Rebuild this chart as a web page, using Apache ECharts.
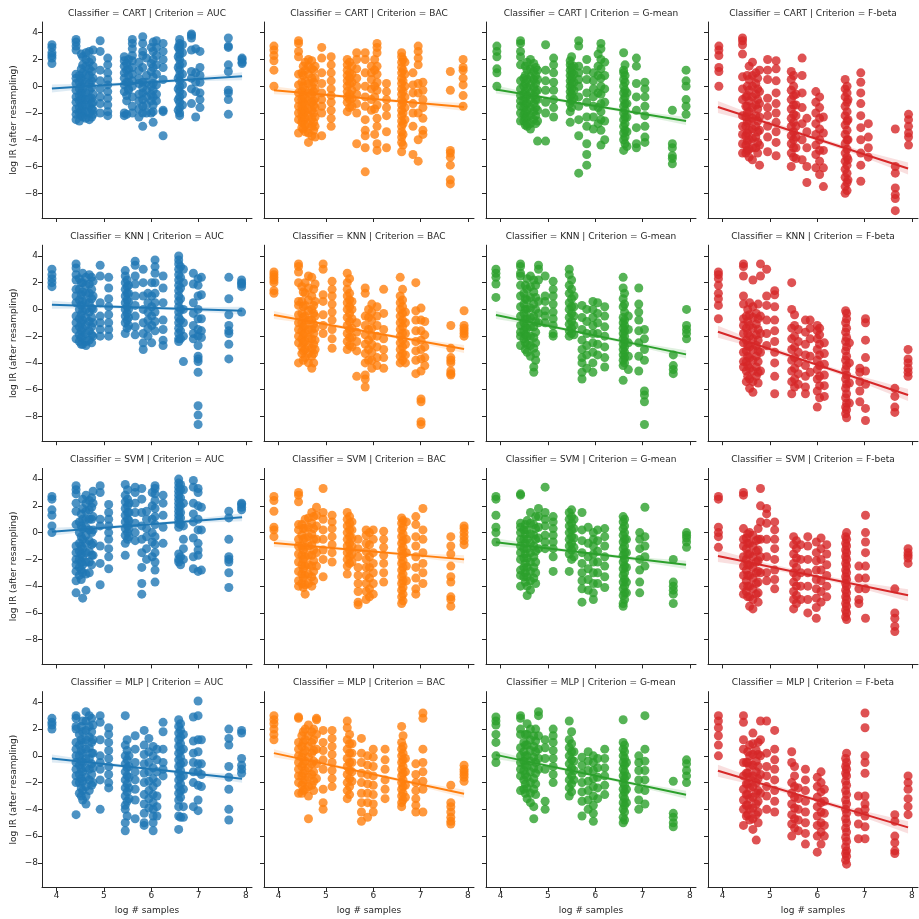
<!DOCTYPE html>
<html lang="en">
<head>
  <meta charset="UTF-8">
  <title>log IR vs log # samples</title>
  <script src="https://cdn.jsdelivr.net/npm/echarts@6/dist/echarts.min.js"></script>
  <style>
    body { margin: 0; background: #fff; }
  </style>
</head>
<body>
  <div id="main" style="width:919px; height:919px;"></div>
  <script>
    // column labels, colours, tick labels
    var criteria = ['AUC', 'BAC', 'G-mean', 'F-beta'];
    var classifiers = ['CART', 'KNN', 'SVM', 'MLP'];
    var colors = ['#1f77b4', '#ff7f0e', '#2ca02c', '#d62728'];
    var xTicks = [4, 5, 6, 7, 8];
    var yTicks = [-8, -6, -4, -2, 0, 2, 4];

    // each strip: [log # samples, [log IR values]]
    var cartAuc = [
      [3.9, [3.1, 2.9, 2.5, 2.3, 2.1, 1.7]],
      [4.41, [3.5, 3.3, 3.0, 2.7, 0.9, 0.6, 0.2, -0.3, -0.8, -1.2, -1.7, -2.1, -2.5]],
      [4.48, [0.8, 0.3, -0.2, -0.7, -1.1, -1.6, -2.0, -2.6]],
      [4.52, [2.4, 1.3, 0.6, 0.0, -0.5, -0.9, -1.3, -1.8, -2.2]],
      [4.55, [2.2, 1.6, 1.0, 0.4, -0.2, -0.7, -1.0, -1.5, -2.0, -2.3]],
      [4.62, [2.5, 2.0, 1.5, 0.9, 0.3, -0.5, -1.0, -1.4, -1.9, -2.4]],
      [4.69, [2.6, 1.8, 1.3, 0.8, 0.2, -0.3, -0.9, -1.5, -2.0, -2.5]],
      [4.74, [2.0, 1.1, 0.4, -0.1, -0.9, -1.3, -1.7, -2.3]],
      [4.77, [2.7, 1.5, 0.6, -0.6, -1.2, -1.8, -2.1]],
      [4.92, [3.4, 2.6, 1.2, 0.4, -0.2, -0.8, -1.3, -2.0]],
      [5.08, [2.1, 1.6, 1.0, 0.5, 0.1, -0.4, -0.9, -1.4, -1.9, -2.2]],
      [5.43, [2.2, 1.9, 1.5, 1.0, 0.6, 0.1, -0.4, -2.0, -2.2]],
      [5.48, [1.7, 1.2, 0.3, -0.7, -1.1, -2.1]],
      [5.52, [2.0, 1.3, 0.8, 0.3, -0.2, -0.3]],
      [5.6, [3.5, 3.2, 2.8, 2.3, 1.9, 1.4, 0.9, 0.4, 0.0, -0.8, -1.5, -2.0]],
      [5.74, [1.8, 1.2, 0.6, 0.2, -0.6, -1.1, -1.7, -2.3]],
      [5.82, [3.7, 3.2, 2.6, 2.3, 1.4, 0.3, -0.1, -0.5, -1.0, -1.5, -2.0, -3.0]],
      [5.9, [2.1, 0.8, 0.3, -0.3, -0.8, -1.4, -2.0]],
      [6.0, [2.9, 1.7, 1.1, 0.0, -0.6, -1.1, -2.0]],
      [6.04, [3.3, 2.6, 2.0, 1.4, 0.7, 0.2, -0.3, -0.8, -1.4, -1.9, -2.7]],
      [6.11, [3.4, 2.9, 2.3, 1.6, 0.9, 0.1, -0.6, -1.1]],
      [6.25, [3.2, 2.6, 2.0, 1.4, 0.5, -1.8, -1.9, -3.7]],
      [6.57, [2.9, 2.2, 1.4, 0.6, -0.2, -1.0, -1.8]],
      [6.6, [3.5, 3.2, 3.0, 2.7, 2.4, 2.0, 1.6, 1.2, 0.8, 0.4, 0.0, -0.4, -0.8, -1.2, -1.6, -2.0, -2.2]],
      [6.66, [3.1, 2.5, 1.7, 0.9, 0.1, -0.6, -1.4]],
      [6.85, [3.9, 3.8, 3.6, 2.7, 1.1, 0.6, -0.2, -1.3]],
      [6.94, [2.8, 1.0, 0.3, -0.4, -2.3]],
      [7.03, [2.6, 1.4, 0.8, 0.3, -0.5, -1.0, -1.6]],
      [7.63, [3.6, 3.0, 2.9, 1.6, 1.1, -0.3, -0.5, -1.0, -2.1]],
      [7.92, [2.1, 2.0, 1.8, 1.7]]
    ];
    var cartBac = [
      [3.9, [3.0, 2.7, 2.3, 1.9, 1.2, 0.0]],
      [4.42, [3.4, 3.2, 2.6, 2.2, 0.9, 0.1, -0.5, -1.0, -1.5, -2.0, -2.5, -3.5]],
      [4.49, [1.0, 0.3, -0.4, -1.0, -1.5, -1.9, -2.3, -2.7, -3.1]],
      [4.52, [1.5, 0.8, 0.0, -0.7, -1.2, -1.7, -2.1, -2.6, -3.2]],
      [4.56, [1.8, 1.2, 0.4, -0.3, -0.9, -1.4, -1.9, -2.4, -2.9, -3.4]],
      [4.63, [2.0, 1.5, 0.9, 0.2, -0.5, -1.1, -1.7, -2.2, -2.8, -3.5, -4.2]],
      [4.7, [1.9, 1.3, 0.6, 0.0, -0.6, -1.2, -1.8, -2.4, -3.0, -3.7]],
      [4.74, [1.2, 0.3, -0.4, -1.1, -1.4, -2.0, -2.7, -3.3]],
      [4.77, [1.5, 0.6, -0.2, -0.9, -1.6, -2.3, -3.0, -3.8]],
      [4.91, [2.9, 2.1, 1.0, 0.2, -0.5, -1.0, -1.5, -2.0, -3.7]],
      [5.11, [2.2, 1.6, 1.0, 0.4, -0.2, -0.7, -1.2, -1.8, -2.4, -3.0]],
      [5.45, [2.0, 1.6, 1.2, 0.8, 0.4, 0.0, -0.4, -0.8, -1.2, -1.9]],
      [5.5, [1.8, 1.0, 0.6, 0.2, -0.6, -1.0, -1.6]],
      [5.55, [1.5, 0.9, 0.3, -0.3, -0.9, -1.5]],
      [5.65, [2.5, 2.0, 1.3, 0.6, 0.0, -0.6, -1.3, -2.0, -4.3]],
      [5.83, [2.5, 2.0, 1.0, 0.0, -0.8, -1.5, -2.5, -3.3, -3.7, -4.6, -6.4]],
      [5.96, [1.5, 1.0, 0.5, -0.2, -1.0, -1.8]],
      [6.03, [2.0, 1.2, 0.0, -0.8, -1.7, -3.6]],
      [6.08, [3.2, 2.9, 2.5, 1.5, 0.9, 0.3, -0.3, -1.4, -2.4, -3.0, -4.3, -4.8]],
      [6.28, [0.2, -0.4, -1.0, -1.6, -2.2, -3.4, -4.6]],
      [6.6, [2.5, 2.2, 1.8, 1.4, 1.0, 0.6, 0.2, -0.2, -0.6, -1.0, -1.4, -1.8, -2.2, -2.6, -3.0, -3.4, -3.8, -4.2, -4.9]],
      [6.63, [2.0, 1.2, 0.4, -0.4, -1.2, -2.0, -2.8, -3.6, -4.4]],
      [6.67, [1.8, 0.9, 0.0, -0.8, -1.6, -2.5]],
      [6.84, [1.0, 0.1, -0.5, -1.3, -2.0, -3.0, -5.1]],
      [6.95, [3.0, 2.6, 2.1, 1.6, 0.2, -0.5, -2.0, -4.0, -5.6]],
      [7.05, [0.3, -0.3, -1.0, -1.6, -2.4, -3.3, -3.6]],
      [7.63, [1.1, -0.3, -4.8, -5.0, -5.3, -5.9, -7.0, -7.3]],
      [7.9, [2.0, 1.4, 1.2, 0.6, 0.1, -0.7, -1.5]]
    ];
    var cartGmean = [
      [3.92, [3.0, 2.6, 2.2, 1.3, 1.0, 0.0]],
      [4.42, [3.4, 3.2, 2.6, 2.2, 1.6, 0.4, -0.2, -0.7, -1.1, -1.5, -2.0, -2.6]],
      [4.49, [0.6, 0.0, -0.6, -1.1, -1.6, -2.1, -2.6]],
      [4.52, [1.5, 0.8, 0.2, -0.4, -0.9, -1.4, -2.0, -2.4, -2.9]],
      [4.56, [1.8, 1.2, 0.5, -0.1, -0.7, -1.3, -1.8, -2.3, -2.8, -3.0]],
      [4.63, [2.0, 1.3, 0.7, 0.1, -0.5, -1.0, -1.6, -2.2, -2.8, -3.2]],
      [4.7, [1.7, 1.1, 0.5, -0.1, -0.7, -1.3, -1.9, -2.5]],
      [4.74, [1.4, 0.8, 0.2, -0.4, -1.0, -1.6, -2.2, -2.8]],
      [4.78, [1.2, 0.5, -0.3, -1.0, -1.8, -2.6, -4.1]],
      [4.95, [3.1, 1.2, 0.4, -0.3, -1.2, -2.0, -4.1]],
      [5.12, [2.1, 1.6, 1.0, 0.3, -0.3, -1.0, -1.6, -2.3]],
      [5.47, [1.9, 1.6, 1.2, 0.8, 0.4, 0.0, -0.4, -0.8, -1.3, -1.9, -2.7]],
      [5.5, [2.2, 1.4, 1.0, 0.6, 0.2, -0.2, -0.6, -1.1, -1.6]],
      [5.55, [1.5, 0.9, 0.3, -0.3, -0.9]],
      [5.65, [3.4, 3.0, 1.5, 1.0, 0.5, 0.0, -0.8, -1.5, -2.5, -3.7, -6.5]],
      [5.82, [2.0, 1.2, 0.5, -0.5, -1.2, -2.3, -3.0, -4.3, -5.1, -5.9]],
      [5.96, [1.0, 0.4, -0.2, -0.8, -1.5, -2.3, -3.2]],
      [6.06, [2.4, 1.5, 0.8, -0.5, -1.6, -2.8]],
      [6.12, [3.2, 2.8, 2.0, 1.3, 0.6, 0.0, -0.6, -1.3, -1.9, -2.5, -3.3, -4.4]],
      [6.2, [1.8, 0.8, -0.2, -1.2, -2.6, -4.0]],
      [6.6, [2.5, 1.2, 1.0, 0.5, 0.0, -0.5, -1.0, -1.5, -2.0, -2.5, -3.0, -3.5, -4.0, -4.8]],
      [6.63, [1.6, 0.8, 0.3, -0.3, -0.8, -1.3, -1.8, -2.3, -2.8, -3.3, -3.8, -4.3]],
      [6.67, [-0.5, -1.3, -2.3, -3.4, -4.5]],
      [6.87, [2.1, 1.5, 0.2, -0.8, -1.8, -3.1, -4.3, -4.6]],
      [7.05, [0.3, -0.2, -0.8, -1.5, -2.2, -3.0, -3.8, -4.2]],
      [7.63, [-1.8, -4.3, -4.6, -5.2, -5.4, -5.8]],
      [7.92, [1.2, 0.4, 0.0, -1.0, -1.5, -2.1]]
    ];
    var cartFbeta = [
      [3.92, [3.0, 2.7, 2.3, 1.4, 1.1, 0.0]],
      [4.42, [3.6, 3.4, 3.1, 2.4, 0.7, -0.2, -1.0, -2.2, -3.0, -3.6, -4.3, -5.0]],
      [4.49, [-0.8, -1.5, -2.3, -3.0, -3.7, -4.4, -5.0]],
      [4.52, [0.8, 0.0, -0.7, -1.5, -2.0, -2.7, -3.5, -4.1, -4.8]],
      [4.56, [1.5, 0.5, -0.3, -1.1, -1.9, -2.6, -3.3, -4.0, -4.7, -5.3]],
      [4.63, [1.8, 0.8, 0.0, -0.8, -1.6, -2.4, -3.2, -3.9, -4.6, -5.5]],
      [4.7, [1.0, 0.2, -0.6, -1.4, -2.2, -3.0, -3.8, -4.6]],
      [4.74, [0.6, -0.2, -1.0, -1.7, -2.6, -3.4, -4.2, -5.0]],
      [4.78, [1.2, -0.4, -1.3, -2.3, -3.3, -4.4, -5.9]],
      [4.95, [2.0, 1.2, 0.5, -0.9, -1.6, -2.2, -3.0, -3.8, -4.9]],
      [5.13, [1.9, 1.3, 0.4, -0.5, -1.3, -2.0, -2.7, -3.4, -4.2, -5.2]],
      [5.45, [1.1, 0.5, -0.3, -1.0, -1.7, -2.4, -3.0, -3.7, -4.3, -5.0, -6.0]],
      [5.5, [0.8, 0.0, -0.7, -1.4, -2.1, -2.7, -3.4, -4.0, -4.6, -5.3]],
      [5.55, [-0.6, -1.4, -2.2, -3.0, -3.8, -4.6, -5.4]],
      [5.68, [2.1, 0.8, -0.5, -1.6, -2.8, -4.0, -5.5]],
      [5.78, [-2.4, -3.4, -4.6, -6.0, -7.2]],
      [5.97, [-0.4, -1.2, -2.0, -2.8, -3.6, -4.4, -5.1, -6.1]],
      [6.05, [-0.8, -1.6, -2.4, -3.2, -4.0, -4.8, -5.6, -6.6]],
      [6.13, [-2.3, -3.5, -4.8, -6.1, -7.5]],
      [6.59, [0.5, -0.2, -0.8, -1.5, -2.2, -2.9, -3.6, -4.3, -5.0, -5.6, -6.2, -6.8, -7.5, -8.0]],
      [6.63, [0.0, -0.5, -1.2, -1.9, -2.6, -3.3, -4.0, -4.7, -5.3, -5.9, -6.5, -7.2, -7.8]],
      [6.65, [-1.0, -2.5, -4.0, -5.5, -7.0]],
      [6.92, [1.0, 0.3, -0.5, -1.3, -2.2, -3.1, -4.0, -5.0, -5.9, -7.1]],
      [7.08, [-2.8, -3.8, -4.6, -5.3]],
      [7.65, [-3.2, -6.0, -6.5, -7.6, -8.1, -8.4, -9.3]],
      [7.93, [-2.1, -2.5, -3.0, -3.5, -3.8, -4.4]]
    ];

    var knnAuc = [
      [3.9, [3.0, 2.6, 2.3, 2.0, 1.7]],
      [4.41, [3.4, 3.1, 2.6, 2.2, 1.5, 1.0, 0.5, -0.5, -1.0, -1.5, -2.2]],
      [4.48, [2.3, 1.5, 0.7, 0.0, -0.7, -1.3, -1.9, -2.4]],
      [4.52, [2.0, 1.1, 0.3, -0.4, -1.0, -1.6, -2.1, -2.6]],
      [4.55, [2.7, 2.0, 1.3, 0.6, -0.1, -0.8, -1.4, -2.0, -2.6]],
      [4.62, [2.4, 1.8, 1.2, 0.6, 0.0, -0.6, -1.2, -1.8, -2.4, -2.7]],
      [4.69, [2.6, 1.9, 1.2, 0.5, -0.2, -0.9, -1.6, -2.3]],
      [4.74, [2.4, 1.5, 0.8, 0.1, -0.6, -1.3, -1.9, -2.5]],
      [4.77, [2.1, 1.0, 0.0, -1.0, -2.0]],
      [4.92, [3.3, 2.5, 0.5, -0.5, -1.0, -1.5, -2.0]],
      [5.1, [2.4, 1.6, 0.8, 0.2, -0.4, -1.0, -1.5, -2.0]],
      [5.45, [2.9, 2.5, 2.0, 1.5, 1.0, 0.5, 0.0, -0.5, -1.0, -1.8]],
      [5.49, [2.2, 1.7, 1.2, 0.7, 0.2, -0.3, -0.8, -1.4]],
      [5.52, [1.8, 1.2, 0.6, 0.0, -0.6, -1.2]],
      [5.66, [3.6, 3.3, 2.5, 1.9, 1.0, 0.3, -0.5, -1.3, -1.9]],
      [5.83, [3.0, 2.0, 1.0, 0.0, -1.0, -1.8, -2.5, -3.0]],
      [5.93, [1.2, 0.5, -0.2, -0.8, -1.4, -2.0]],
      [6.01, [2.0, 1.0, 0.2, -0.5, -1.2, -2.5]],
      [6.08, [3.7, 3.2, 2.7, 2.0, 1.2, 0.5, -0.2, -0.9, -1.6]],
      [6.25, [2.5, 1.6, 0.5, -0.8, -1.5, -2.3, -2.7]],
      [6.58, [4.0, 3.7, 3.4, 3.0, 2.6, 2.2, 1.8, 1.4, 1.0, 0.6, 0.2, -0.2, -0.6, -1.0, -1.4, -1.8, -2.2, -2.4]],
      [6.62, [3.2, 2.4, 1.6, 0.8, 0.0, -0.8, -1.6, -2.2]],
      [6.68, [3.0, 2.0, 0.0, -1.0, -2.0, -3.9]],
      [6.89, [2.7, 1.9, 0.5, -0.3, -1.2, -1.8, -2.2]],
      [6.99, [2.3, 1.8, 1.0, 0.0, -0.7, -1.5, -2.0, -2.7, -3.5, -3.7, -3.9, -4.7, -7.2, -7.9, -8.6]],
      [7.06, [2.4, 1.1, -0.7, -1.6, -2.1]],
      [7.64, [2.4, 0.8, -0.4, -1.2, -1.6, -1.8, -2.6, -3.7]],
      [7.91, [2.2, 2.0, 1.9, 1.7, -0.2]]
    ];
    var knnBac = [
      [3.9, [2.8, 2.6, 2.4, 2.2, 2.0, 1.4, 1.2]],
      [4.42, [3.4, 3.2, 2.8, 2.0, 0.6, 0.3, -0.4, -1.0, -1.5, -2.0, -2.5, -4.0]],
      [4.49, [1.7, 0.6, -0.3, -1.0, -1.6, -2.2, -2.8, -3.3]],
      [4.52, [1.3, 0.2, -0.6, -1.3, -1.9, -2.5, -3.1, -3.8]],
      [4.56, [2.0, 1.2, 0.3, -0.5, -1.2, -1.8, -2.4, -3.0, -3.6]],
      [4.63, [2.5, 1.6, 0.7, -0.1, -0.8, -1.5, -2.1, -2.7, -3.3, -4.0]],
      [4.7, [2.4, 1.0, 0.0, -0.8, -1.5, -2.2, -2.9, -3.5, -4.4]],
      [4.74, [1.5, 0.3, -0.3, -1.1, -1.8, -2.6, -3.3, -4.0]],
      [4.77, [1.9, 0.6, -0.5, -1.4, -2.3, -3.0]],
      [4.94, [3.4, 3.0, 1.1, 0.6, -0.4, -1.2, -1.8]],
      [5.13, [2.1, 1.5, 1.0, 0.4, -0.2, -0.8, -1.5, -2.2, -2.9]],
      [5.45, [2.7, 2.0, 1.5, 1.0, 0.5, 0.0, -0.6, -1.2, -1.8, -2.4, -3.0]],
      [5.5, [2.3, 1.2, 0.7, 0.2, -0.3, -0.9, -1.5, -2.1, -2.7]],
      [5.55, [0.6, 0.0, -0.7, -1.4, -2.1, -2.8]],
      [5.65, [-1.0, -1.7, -2.4, -3.1, -5.0]],
      [5.83, [1.6, 1.2, -0.5, -1.2, -1.9, -2.6, -3.3, -4.0, -4.9, -5.2, -5.8]],
      [5.9, [0.0, -0.6, -1.5, -2.3, -3.0, -3.8]],
      [5.97, [0.4, -0.2, -0.8, -1.4, -2.0, -2.6, -3.2, -3.8, -4.4]],
      [6.08, [0.2, -0.5, -1.2, -2.0, -2.8, -3.6, -4.2]],
      [6.22, [1.5, -0.3, -1.5, -2.2, -3.0, -3.6, -4.4]],
      [6.57, [2.4, 1.0, 0.5, 0.0, -0.5, -1.0, -1.5, -2.0, -2.5, -3.0, -3.5, -4.0]],
      [6.62, [1.5, 0.7, 0.2, -0.3, -0.8, -1.3, -1.8, -2.3, -2.8, -3.3, -3.8]],
      [6.68, [-0.2, -1.0, -1.8, -2.6, -3.4, -4.0]],
      [6.9, [2.0, -0.1, -0.8, -1.6, -2.4, -3.1, -3.8, -4.8]],
      [7.01, [0.1, -0.8, -1.6, -2.3, -3.0, -3.7, -4.6, -6.7, -6.9, -8.4, -8.6]],
      [7.09, [-0.9, -1.9, -2.8, -3.6, -4.2]],
      [7.64, [-1.2, -2.9, -3.6, -3.8, -4.0, -4.6, -4.8, -4.9]],
      [7.92, [-0.1, -1.2, -1.4, -1.6, -1.8, -2.0]]
    ];
    var knnGmean = [
      [3.9, [3.0, 2.7, 2.4, 1.9, 0.9]],
      [4.42, [3.4, 3.2, 2.7, 2.5, 1.8, 1.0, 0.2, -0.5, -1.2, -1.7, -2.0, -2.7]],
      [4.49, [1.2, 0.4, -0.3, -1.0, -1.6, -2.2]],
      [4.52, [1.8, 0.8, 0.0, -0.7, -1.3, -1.9, -2.5, -3.0]],
      [4.56, [2.3, 1.5, 0.7, 0.0, -0.7, -1.4, -2.0, -2.6, -3.2]],
      [4.63, [2.5, 1.7, 0.9, 0.1, -0.6, -1.3, -2.0, -2.7, -3.5]],
      [4.7, [2.2, 1.3, 0.4, -0.5, -1.3, -2.1, -2.9, -4.3, -4.7]],
      [4.74, [1.8, 0.9, 0.0, -0.9, -1.7, -2.5, -3.3, -3.8]],
      [4.8, [3.3, 3.0, 2.2, 0.6, -0.3, -1.0]],
      [4.94, [2.5, 1.0, 0.6, -0.1, -0.5, -1.0]],
      [5.11, [2.1, 1.5, 1.0, 0.4, -0.2, -0.7, -1.2, -1.8, -2.0]],
      [5.45, [3.0, 2.6, 1.8, 1.2, 0.5, 0.0, -0.6, -1.1, -1.6, -2.0]],
      [5.5, [2.2, 1.5, 0.8, 0.2, -0.3, -0.9, -1.4, -1.8]],
      [5.55, [1.0, 0.2, -0.5, -1.2, -1.9]],
      [5.72, [0.3, -0.6, -1.5, -2.3, -3.0, -3.6, -4.0, -4.7, -5.2]],
      [5.82, [0.0, -0.9, -1.8, -2.7, -3.4, -4.4]],
      [5.95, [0.6, 0.0, -0.6, -1.2, -1.8, -2.5, -3.2, -4.0, -4.7]],
      [6.05, [0.5, -0.3, -1.0, -1.8, -2.6, -3.4]],
      [6.2, [0.2, -0.5, -1.3, -2.0, -2.8, -3.6, -4.3]],
      [6.59, [2.4, 1.6, 0.8, 0.2, -0.6, -1.0, -1.4, -1.8, -2.2, -2.6, -3.0, -3.4, -3.8, -4.2, -5.3]],
      [6.62, [1.2, 0.4, -0.2, -0.8, -1.2, -1.6, -2.0, -2.4, -2.8, -3.2, -3.6, -4.0]],
      [6.7, [-0.5, -1.5, -2.5, -3.5, -4.5]],
      [6.92, [1.6, 0.4, -0.2, -0.8, -1.6, -2.5, -3.5, -4.6]],
      [7.04, [-1.5, -2.2, -3.0, -3.8, -6.1, -6.4, -6.9, -8.6]],
      [7.65, [-3.4, -4.2, -4.5, -4.8]],
      [7.93, [0.0, -1.2, -1.5, -1.8, -2.2]]
    ];
    var knnFbeta = [
      [3.91, [2.8, 2.6, 2.3, 1.8, 1.2, 0.8, 0.3, -0.7]],
      [4.44, [3.4, 3.2, 2.5, 1.0, 0.4, -0.7, -1.2, -1.8, -2.5, -3.2, -3.9, -4.3]],
      [4.5, [-0.5, -1.4, -2.3, -3.1, -3.9, -4.6, -5.4]],
      [4.53, [0.0, -0.9, -1.8, -2.7, -3.5, -4.2, -5.0]],
      [4.57, [0.5, -0.4, -1.2, -2.0, -2.8, -3.6, -4.4, -5.2, -5.9]],
      [4.64, [2.2, 0.2, -0.6, -1.4, -2.2, -3.0, -3.8, -4.6, -5.4, -6.2]],
      [4.71, [-0.3, -1.1, -1.9, -2.7, -3.5, -4.3, -5.0]],
      [4.75, [0.4, -0.7, -1.5, -2.3, -3.1, -3.9, -4.7, -5.5]],
      [4.8, [3.4, 2.5, -0.5, -1.8, -3.2, -4.6]],
      [4.93, [3.0, 1.0, 0.3, -0.8, -1.8, -2.7]],
      [5.1, [1.4, 1.1, 0.2, -0.8, -1.6, -2.4, -3.2, -4.0, -5.0, -6.3]],
      [5.46, [2.0, 0.0, -1.4, -2.2, -3.0, -3.8, -4.6, -5.4, -6.3]],
      [5.52, [-0.4, -1.2, -2.0, -2.8, -3.6, -4.4, -5.2, -5.8]],
      [5.6, [-1.5, -2.4, -3.2, -4.0, -4.8, -5.6]],
      [5.75, [-0.8, -1.7, -2.6, -3.4, -4.2, -5.0, -5.8, -6.3]],
      [5.85, [-0.8, -1.4, -2.2, -3.5, -4.7]],
      [6.0, [-1.2, -1.6, -2.2, -3.0, -3.8, -4.5, -5.2, -6.1, -7.3]],
      [6.05, [-1.4, -1.9, -2.6, -3.4, -4.2, -5.0, -5.7, -6.6]],
      [6.15, [-2.5, -3.3, -4.1, -4.9, -5.7, -6.5]],
      [6.6, [-0.1, -1.0, -1.7, -2.4, -3.1, -3.8, -4.5, -5.2, -5.9, -6.6, -7.3, -7.8]],
      [6.62, [-0.3, -0.7, -1.4, -2.1, -2.8, -3.5, -4.2, -4.9, -5.6, -6.3, -7.0, -7.5, -8.1]],
      [6.68, [-2.5, -4.0, -5.5, -7.0]],
      [6.9, [-4.4, -4.7, -5.4, -6.1, -6.9]],
      [7.02, [-0.7, -1.0, -2.3, -3.6, -4.6, -5.6, -7.4, -8.3]],
      [7.64, [-5.9, -6.5, -7.3, -7.7]],
      [7.92, [-3.0, -3.7, -4.0, -4.4, -4.7, -5.0]]
    ];

    var svmAuc = [
      [3.9, [2.7, 2.5, 1.7, 1.3, 0.5, 0.0]],
      [4.41, [3.5, 3.2, 2.9, 2.2, 1.6, 0.6, -1.0, -1.5, -2.0, -2.4, -2.9, -3.6, -4.5]],
      [4.48, [0.8, 0.0, -0.8, -1.4, -2.0, -2.6, -3.2]],
      [4.52, [1.4, 0.5, -0.3, -1.0, -1.6, -2.2, -2.8, -3.5]],
      [4.55, [2.5, 1.8, 1.0, 0.3, -0.5, -1.2, -1.8, -2.4, -3.0, -4.9]],
      [4.62, [2.8, 2.2, 1.6, 1.0, 0.4, -0.2, -0.8, -1.5, -2.2, -3.1, -4.3]],
      [4.69, [2.4, 1.7, 1.0, 0.2, -0.6, -1.4, -2.2, -3.0]],
      [4.74, [2.6, 1.9, 1.0, 0.0, -0.9, -1.7, -2.4]],
      [4.77, [3.1, 2.2, 1.2, 0.2, -0.8, -1.7]],
      [4.92, [3.5, 3.0, 1.0, 0.5, -1.0, -2.3, -3.9]],
      [5.1, [2.1, 1.5, 1.0, 0.5, 0.0, -0.5, -1.2, -1.8, -2.7]],
      [5.45, [3.6, 2.8, 2.3, 1.8, 1.3, 0.8, 0.3, -0.2, -0.8, -1.7]],
      [5.5, [3.2, 2.5, 2.0, 1.5, 1.0, 0.5, 0.0, -0.5]],
      [5.53, [2.2, 1.5, 0.9, 0.3, -0.3]],
      [5.66, [3.4, 3.0, 2.2, 1.5, 0.7, 0.0, -0.6]],
      [5.8, [3.3, 2.5, 1.5, 0.5, -0.5, -1.5, -2.6, -3.8, -4.6]],
      [5.9, [1.6, 1.0, 0.3, -0.3, -1.2, -2.0]],
      [6.02, [3.0, 2.0, 1.0, 0.0, -0.7, -1.8]],
      [6.08, [3.5, 3.3, 2.9, 2.4, 1.8, 1.2, 0.6, -0.3, -0.9, -1.5, -2.2, -2.8, -3.7]],
      [6.25, [2.8, 2.2, 1.3, 0.4, -0.8]],
      [6.58, [4.0, 3.7, 3.4, 3.1, 2.8, 2.5, 2.2, 1.9, 1.6, 1.3, 1.0, 0.7, 0.4, -1.6, -2.0, -2.2]],
      [6.62, [3.6, 3.2, 2.6, 2.0, 1.5, 1.1, 0.6, -1.8, -2.4]],
      [6.68, [3.2, 2.2, 0.5, -0.5, -1.2, -2.0]],
      [6.89, [3.9, 3.4, 2.2, 1.4, 0.8, -0.4, -1.8, -2.7]],
      [6.99, [3.3, 3.0, 2.0, 1.0, 0.2, -0.8, -1.3, -1.7, -2.9]],
      [7.06, [1.9, 0.2, -2.8]],
      [7.64, [1.6, 1.1, -0.5, -1.8, -2.0, -2.2, -3.0, -4.1]],
      [7.91, [2.2, 2.1, 1.9, 1.7]]
    ];
    var svmBac = [
      [3.9, [2.7, 2.4, 1.6, 0.4, 0.2, -0.3]],
      [4.42, [3.0, 2.8, 2.3, 0.6, 0.2, -0.5, -1.0, -1.6, -2.2, -2.9, -3.6, -4.0]],
      [4.49, [0.6, -0.2, -1.0, -1.7, -2.4, -3.1, -3.8]],
      [4.52, [0.3, -0.5, -1.3, -2.0, -2.7, -3.4, -4.1]],
      [4.56, [1.0, 0.3, -0.4, -1.1, -1.8, -2.5, -3.2, -3.9, -4.6]],
      [4.63, [1.1, 0.4, -0.3, -1.0, -1.7, -2.4, -3.1, -3.8]],
      [4.7, [1.5, 0.7, -0.1, -0.9, -1.7, -2.5, -3.3, -4.0]],
      [4.74, [1.2, 0.3, -0.5, -1.3, -2.1, -2.9, -3.6]],
      [4.8, [1.9, 1.3, 0.5, -0.5, -1.5, -2.5]],
      [4.94, [3.3, 1.5, 1.0, 0.2, -0.5, -1.3, -2.0, -3.3]],
      [5.13, [1.3, 0.8, 0.3, -0.3, -0.9, -1.5, -2.2]],
      [5.45, [1.5, 1.0, 0.5, 0.0, -0.5, -1.0, -1.5, -2.0, -2.5, -3.1]],
      [5.5, [1.2, 0.7, 0.2, -0.3, -0.8, -1.3, -1.8, -2.3]],
      [5.55, [0.8, 0.2, -0.4, -1.0, -1.6, -2.2]],
      [5.68, [-0.5, -1.2, -1.8, -2.6, -3.2, -3.8, -4.4, -5.2, -5.4]],
      [5.85, [0.2, -0.2, -0.8, -1.4, -2.0, -2.6, -3.2, -3.8, -4.4, -5.0]],
      [5.92, [0.0, -0.9, -1.8, -2.6, -3.4, -4.2, -4.8]],
      [6.0, [0.2, -0.5, -1.5, -2.3, -3.0, -3.8, -4.6]],
      [6.22, [0.1, -0.5, -1.1, -1.7, -2.3, -3.0, -3.7]],
      [6.6, [1.1, 0.7, 0.2, -0.3, -0.8, -1.3, -1.8, -2.3, -2.8, -3.3, -3.8, -4.3, -4.8, -5.3]],
      [6.63, [0.9, 0.4, -0.1, -0.6, -1.1, -1.6, -2.1, -2.6, -3.1, -3.6, -4.1, -4.6, -5.1]],
      [6.7, [0.8, -0.5, -1.5, -2.5, -3.6]],
      [6.9, [1.2, 0.6, -0.3, -1.0, -1.8, -2.6, -3.4, -4.2, -4.6]],
      [7.05, [1.8, 0.2, -0.5, -1.5, -2.3, -3.0, -3.8]],
      [7.64, [-0.3, -1.0, -1.6, -2.5, -3.3, -3.7, -4.8, -5.0, -5.5]],
      [7.92, [0.5, 0.3, 0.0, -0.3, -0.6, -0.9]]
    ];
    var svmGmean = [
      [3.9, [2.7, 2.5, 1.3, 0.4, 0.0, -0.7]],
      [4.42, [2.9, 2.8, 0.7, 0.4, 0.0, -0.5, -1.0, -1.5, -2.0, -2.8, -3.2, -4.0]],
      [4.49, [0.2, -0.5, -1.2, -1.9, -2.6, -3.3]],
      [4.52, [0.6, -0.1, -0.8, -1.6, -2.3, -3.0, -3.7]],
      [4.56, [0.9, 0.2, -0.5, -1.2, -1.9, -2.6, -3.3, -4.0, -4.7]],
      [4.63, [1.5, 0.7, -0.1, -0.8, -1.5, -2.2, -2.9, -3.6, -4.3]],
      [4.7, [0.6, -0.2, -1.0, -1.8, -2.6, -3.4]],
      [4.74, [1.2, 0.3, -0.5, -1.4, -2.2, -3.0, -3.8]],
      [4.8, [1.8, 1.2, 0.4, -0.4, -1.2]],
      [4.94, [3.4, 1.5, 1.0, 0.5, -0.2, -0.7, -1.2]],
      [5.11, [1.2, 0.8, 0.3, -0.2, -0.7, -1.2, -1.8, -2.9]],
      [5.45, [1.5, 1.0, 0.5, 0.0, -0.5, -1.0, -1.6, -2.9]],
      [5.5, [1.7, 1.2, 0.7, 0.2, -0.3, -0.8, -1.3, -2.0]],
      [5.55, [1.0, 0.3, -0.4, -1.1, -1.8]],
      [5.72, [1.5, 0.2, -0.6, -1.5, -2.3, -3.0, -3.6, -4.2, -5.2]],
      [5.85, [0.4, -0.8, -1.8, -2.7, -3.5, -4.3]],
      [5.96, [0.0, -0.5, -1.0, -1.6, -2.2, -3.0, -3.8, -4.5, -5.0]],
      [6.05, [0.2, -0.6, -1.4, -2.2, -3.0, -3.8]],
      [6.2, [0.3, -0.3, -1.0, -1.8, -2.5, -3.3, -4.1]],
      [6.59, [1.2, 0.8, 0.3, -0.2, -0.7, -1.2, -1.7, -2.2, -2.7, -3.2, -3.7, -4.2, -4.7, -5.3, -5.5]],
      [6.62, [1.0, 0.5, 0.0, -0.5, -1.0, -1.5, -2.0, -2.5, -3.0, -3.5, -4.0, -4.5, -5.0]],
      [6.66, [-0.5, -1.5, -2.6, -3.7, -4.5]],
      [6.94, [0.0, -0.5, -1.2, -2.0, -2.8, -3.7, -4.5]],
      [7.05, [1.9, -0.3, -1.0, -1.8, -2.5]],
      [7.65, [-2.0, -3.7, -4.0, -4.3, -4.6, -5.3]],
      [7.93, [0.0, -0.2, -0.4, -0.7, -1.1]]
    ];
    var svmFbeta = [
      [3.91, [2.7, 2.5, 0.4, 0.0, -0.3, -1.1]],
      [4.44, [3.0, 2.8, 0.3, -0.5, -1.0, -1.8, -2.5, -3.2, -4.0, -4.6]],
      [4.5, [-0.4, -1.2, -2.0, -2.8, -3.6, -4.4]],
      [4.53, [-0.1, -0.8, -1.6, -2.4, -3.2, -4.0, -4.8]],
      [4.57, [0.0, -0.8, -1.6, -2.4, -3.2, -4.0, -4.8, -5.5]],
      [4.64, [-0.2, -1.0, -1.8, -2.6, -3.4, -4.2, -5.0, -5.7]],
      [4.71, [-0.6, -1.4, -2.2, -3.0, -3.8, -4.6]],
      [4.75, [0.3, -0.5, -1.3, -2.1, -2.9, -3.7, -4.5, -5.2]],
      [4.8, [3.3, 2.0, 0.8, -0.5, -1.8, -3.0]],
      [4.93, [1.8, 1.4, 0.7, -0.5, -1.8, -3.0, -3.6]],
      [5.1, [0.8, 0.2, -0.5, -1.2, -2.0, -2.8, -3.5, -4.2]],
      [5.5, [-0.3, -0.9, -1.6, -2.3, -3.0, -3.7, -4.4, -5.0, -5.7]],
      [5.56, [-0.6, -1.2, -1.9, -2.6, -3.3, -4.0, -4.7, -5.3]],
      [5.65, [-0.9, -2.0, -3.0, -4.0, -5.0]],
      [5.8, [-0.3, -1.0, -2.0, -3.0, -4.0, -5.0, -6.0]],
      [5.98, [-0.7, -1.5, -2.1, -2.8, -3.5, -4.2, -4.9, -5.6, -6.4]],
      [6.08, [-0.4, -1.2, -2.0, -2.8, -3.6, -4.4, -5.2]],
      [6.2, [-0.9, -1.6, -2.4, -3.2, -4.0, -4.8]],
      [6.6, [-0.3, -0.8, -1.3, -1.8, -2.3, -2.8, -3.3, -3.8, -4.3, -4.8, -5.3, -5.8, -6.3]],
      [6.62, [0.0, -0.5, -1.0, -1.5, -2.0, -2.5, -3.0, -3.5, -4.0, -4.5, -5.0, -5.5, -6.0, -6.5]],
      [6.88, [-2.5, -3.4, -4.2, -5.0, -5.3]],
      [7.02, [1.3, 0.0, -0.7, -1.5, -2.5, -3.4, -4.2, -6.4]],
      [7.64, [-4.2, -6.0, -6.4, -7.0, -7.4]],
      [7.92, [-1.2, -1.5, -1.7, -1.9, -2.3]]
    ];

    var mlpAuc = [
      [3.9, [2.8, 2.5, 2.3, 2.0]],
      [4.41, [3.0, 2.8, 2.2, 2.0, 1.0, 0.5, 0.0, -0.5, -1.0, -1.5, -2.0, -4.4]],
      [4.48, [1.6, 0.8, 0.0, -0.7, -1.4, -2.0, -2.8]],
      [4.52, [2.2, 1.2, 0.4, -0.4, -1.0, -1.7, -2.4, -3.0]],
      [4.55, [2.6, 1.8, 1.0, 0.2, -0.5, -1.2, -1.9, -2.6, -3.3]],
      [4.62, [3.3, 2.6, 1.9, 1.2, 0.5, -0.2, -0.9, -1.6, -2.3, -3.0, -3.6]],
      [4.69, [3.0, 2.2, 1.4, 0.6, -0.2, -1.0, -1.8, -2.6]],
      [4.74, [2.8, 1.8, 1.0, 0.2, -0.6, -1.4, -2.2]],
      [4.77, [2.3, 1.2, 0.2, -0.9, -2.0]],
      [4.92, [3.0, 2.5, 1.2, 0.0, -0.5, -1.0, -1.8, -4.0]],
      [5.1, [2.1, 1.6, 1.0, 0.4, -0.2, -0.8, -1.4, -2.0, -2.4]],
      [5.45, [3.0, 0.8, 0.0, -0.6, -1.2, -1.8, -2.4, -3.0, -3.7, -4.0, -5.0, -5.6]],
      [5.49, [1.2, 0.4, -0.3, -0.9, -1.5, -2.1, -2.7, -3.4, -4.5]],
      [5.53, [0.0, -0.8, -1.6, -2.4, -3.2]],
      [5.66, [1.5, 0.5, -0.5, -1.2, -1.8, -2.5, -3.3, -4.7]],
      [5.85, [1.9, 0.8, 0.1, -0.6, -1.3, -2.0, -2.9, -3.6, -4.3, -5.0, -5.2]],
      [5.95, [1.3, 0.3, -0.5, -1.2, -1.9, -2.6, -3.2, -3.9]],
      [6.04, [0.7, 0.0, -0.9, -1.7, -2.3, -2.9, -3.5, -4.0, -4.5, -5.0, -5.6]],
      [6.12, [0.5, -0.3, -1.2, -2.0, -3.0, -3.8, -4.5]],
      [6.25, [2.5, 1.8, 0.5, -0.5, -1.0, -1.5]],
      [6.58, [2.7, 2.2, 1.7, 1.2, 0.7, 0.2, -0.3, -0.8, -1.3, -1.8, -2.3, -2.8, -3.3, -3.8, -4.5, -5.5]],
      [6.62, [2.4, 1.9, 1.4, 0.9, 0.4, -0.1, -0.6, -1.1, -1.6, -2.1, -2.6, -3.1, -4.6]],
      [6.68, [1.6, 0.5, -0.5, -1.5, -2.5, -3.8, -4.6]],
      [6.89, [2.9, 1.1, 0.2, -0.5, -1.2, -2.0, -3.8]],
      [6.99, [4.1, 3.0, 1.2, 0.3, -0.6, -1.2, -2.2, -3.3, -4.1]],
      [7.06, [1.2, -0.6, -1.4, -2.3]],
      [7.64, [2.0, 1.3, 0.8, -0.8, -1.6, -2.5, -4.0, -4.8]],
      [7.91, [1.9, 1.7, -0.2, -0.7, -1.0, -1.3]]
    ];
    var mlpBac = [
      [3.9, [3.0, 2.7, 2.4, 2.0, 1.6, 1.2]],
      [4.42, [2.9, 2.8, 1.0, 0.5, 0.0, -0.5, -1.0, -1.5, -2.0, -2.8]],
      [4.49, [1.5, 0.7, -0.1, -0.8, -1.5, -2.2, -2.8]],
      [4.52, [1.8, 1.0, 0.2, -0.6, -1.3, -2.0, -2.6]],
      [4.56, [2.0, 1.2, 0.4, -0.4, -1.1, -1.8, -2.5]],
      [4.63, [2.3, 1.5, 0.7, -0.1, -0.9, -1.6, -2.3, -3.0, -4.7]],
      [4.7, [1.8, 1.0, 0.2, -0.6, -1.4, -2.2]],
      [4.74, [2.0, 1.2, 0.4, -0.4, -1.2, -1.9, -2.6]],
      [4.8, [2.8, 2.7, 1.6, 0.5, -0.6, -1.7]],
      [4.94, [1.9, 1.0, 0.4, -0.3, -1.0, -2.5, -3.5, -4.0]],
      [5.13, [1.9, 1.3, 0.7, 0.1, -0.5, -1.1, -1.7, -2.3]],
      [5.45, [2.6, 2.1, 1.2, 0.5, -0.2, -0.8, -1.4, -2.0, -2.6, -3.2]],
      [5.5, [1.6, 0.9, 0.2, -0.5, -1.1, -1.7, -2.3, -2.9]],
      [5.55, [0.9, 0.2, -0.5, -1.2, -1.9]],
      [5.75, [1.3, 0.2, -0.5, -1.3, -2.0, -2.8, -3.5, -4.2, -4.9]],
      [5.88, [0.0, -0.7, -1.4, -2.1, -2.8, -3.5, -4.6]],
      [6.0, [0.5, -0.1, -0.8, -1.5, -2.2, -2.9, -3.6, -4.2]],
      [6.25, [0.5, -0.3, -1.0, -1.8, -2.5, -3.2]],
      [6.6, [2.2, 1.0, 0.5, 0.0, -0.5, -1.0, -1.5, -2.0, -2.5, -3.0, -3.5, -3.8]],
      [6.63, [1.5, 0.7, 0.2, -0.3, -0.8, -1.3, -1.8, -2.3, -2.8, -3.3]],
      [6.68, [-0.2, -1.2, -2.2, -3.1]],
      [6.9, [-0.6, -1.4, -2.0, -2.6, -3.2, -3.7, -4.2]],
      [7.05, [3.2, 2.8, 0.5, -0.5, -1.2, -1.9, -2.5, -4.2]],
      [7.64, [-2.2, -3.5, -3.8, -4.2, -4.6, -4.9, -5.1]],
      [7.92, [-0.7, -1.0, -1.2, -1.4, -1.6, -1.9]]
    ];
    var mlpGmean = [
      [3.9, [2.9, 2.6, 2.3, 1.6, 1.0, 0.0, -0.5]],
      [4.42, [3.0, 2.8, 2.0, 1.6, 0.6, 0.0, -0.5, -1.0, -1.5, -2.6]],
      [4.49, [1.0, 0.3, -0.4, -1.1, -1.8, -2.5]],
      [4.52, [1.6, 0.8, 0.0, -0.7, -1.4, -2.1, -2.8]],
      [4.56, [2.4, 1.6, 0.8, 0.0, -0.8, -1.6, -2.4, -3.2]],
      [4.63, [2.0, 1.2, 0.4, -0.4, -1.2, -2.0, -2.8, -3.5]],
      [4.7, [1.5, 0.7, -0.1, -0.9, -1.7, -2.5, -3.8, -4.7]],
      [4.74, [2.0, 1.1, 0.3, -0.5, -1.3, -2.1, -2.9]],
      [4.8, [3.3, 3.0, 1.5, 0.5, -0.2, -1.0]],
      [4.94, [1.2, 0.6, -0.2, -1.0, -3.4, -4.0]],
      [5.11, [2.0, 1.5, 1.0, 0.4, -0.2, -0.8, -1.4, -2.0]],
      [5.45, [2.6, 1.2, 0.6, 0.0, -0.6, -1.2, -1.8, -2.4, -3.0]],
      [5.5, [1.8, 0.9, 0.3, -0.3, -0.9, -1.5, -2.1, -2.7]],
      [5.55, [0.3, -0.4, -1.1, -1.8]],
      [5.72, [-0.1, -0.7, -1.3, -2.0, -2.7, -3.4, -4.5]],
      [5.85, [0.3, -0.4, -1.1, -1.9, -2.6, -3.3, -4.0]],
      [5.96, [0.0, -0.5, -1.1, -1.7, -2.3, -3.0, -3.7, -4.3, -4.9]],
      [6.05, [-0.2, -0.9, -1.6, -2.4, -3.2]],
      [6.2, [0.5, -0.2, -0.9, -1.5, -2.2, -2.9]],
      [6.59, [2.7, 1.0, 0.5, 0.0, -0.5, -1.0, -1.5, -2.0, -2.5, -3.0, -3.5, -4.0, -4.6, -5.0]],
      [6.62, [0.8, 0.3, -0.2, -0.7, -1.2, -1.7, -2.2, -2.7, -3.2, -3.7, -4.2, -4.8]],
      [6.66, [-0.5, -1.5, -2.5, -3.5]],
      [6.92, [0.0, -0.5, -1.1, -1.8, -2.5, -3.3, -4.0]],
      [7.05, [3.0, 0.5, -0.4, -1.1, -1.8, -2.6, -3.6]],
      [7.65, [-1.9, -4.3, -4.6, -5.0, -5.3]],
      [7.93, [-0.3, -0.6, -1.1, -1.5, -2.0]]
    ];
    var mlpFbeta = [
      [3.91, [3.0, 2.6, 2.1, 1.5, 0.8, 0.0]],
      [4.44, [3.0, 2.5, 1.2, 0.5, -0.5, -1.5, -2.5, -3.3, -4.0, -5.2]],
      [4.5, [-0.5, -1.3, -2.1, -2.9, -3.7, -4.5]],
      [4.53, [0.3, -0.5, -1.3, -2.1, -2.9, -3.7, -4.4]],
      [4.57, [0.8, 0.0, -0.8, -1.6, -2.4, -3.2, -4.0, -4.8]],
      [4.64, [1.7, 0.9, 0.1, -0.7, -1.5, -2.3, -3.1, -3.9, -4.7, -5.5]],
      [4.71, [0.4, -0.4, -1.2, -2.0, -2.8, -3.6, -4.4, -6.3]],
      [4.75, [1.0, 0.1, -0.8, -1.7, -2.6, -3.4, -4.2, -5.0]],
      [4.8, [2.6, 1.2, 0.0, -1.4, -2.8]],
      [4.93, [2.6, 0.2, -0.8, -1.5, -2.3, -3.0, -4.0]],
      [5.1, [1.9, 0.5, -0.3, -1.0, -1.8, -2.6, -3.4, -4.2]],
      [5.46, [0.3, -0.5, -2.0, -2.8, -3.6, -4.4, -5.1, -6.0]],
      [5.52, [-0.8, -1.5, -2.3, -3.1, -3.9, -4.7, -5.4]],
      [5.6, [-2.4, -3.2, -4.0, -4.8, -5.6]],
      [5.75, [-1.0, -1.8, -2.6, -3.4, -4.2, -5.0, -5.8, -6.6]],
      [6.0, [-1.6, -2.3, -3.1, -3.8, -4.5, -5.2, -6.0, -7.2]],
      [6.08, [-1.2, -2.0, -2.7, -3.5, -4.2, -5.0, -5.7, -6.6]],
      [6.15, [-2.5, -3.4, -4.3, -5.2, -6.0]],
      [6.6, [-0.2, -0.8, -1.3, -1.9, -2.6, -3.3, -4.0, -4.7, -5.4, -6.1, -6.8, -7.3, -7.8]],
      [6.62, [0.2, -0.5, -1.0, -1.5, -2.2, -2.9, -3.6, -4.3, -5.0, -5.7, -6.4, -7.1, -7.5, -8.1]],
      [6.87, [-3.0, -4.2, -5.1, -6.2]],
      [7.01, [3.2, 2.1, 0.0, -0.5, -1.3, -3.0, -3.6, -4.0, -4.5, -5.3, -6.2]],
      [7.64, [-4.4, -4.9, -6.0, -6.5, -7.1, -7.3]],
      [7.92, [-1.5, -2.0, -2.5, -3.2, -3.8, -4.4]]
    ];

    // regression line, value at first and last x (AUC, BAC, G-mean, F-beta)
    var fitX = [3.9, 7.92];
    var fitCart = [[-0.17, 0.75], [-0.3, -1.55], [-0.25, -2.6], [-1.55, -6.15]];
    var fitKnn = [[0.35, -0.1], [-0.42, -2.96], [-0.42, -3.36], [-1.67, -6.4]];
    var fitSvm = [[0.07, 1.15], [-0.77, -2.0], [-0.72, -2.41], [-1.74, -4.68]];
    var fitMlp = [[-0.2, -1.72], [0.2, -2.84], [0.07, -2.91], [-1.12, -5.35]];
    // confidence band half-width along x
    var bandX = [3.9, 4.9, 5.9, 6.9, 7.92];
    var bandHalf = [0.3, 0.15, 0.1, 0.15, 0.3];
    var bandHalfF = [0.45, 0.22, 0.14, 0.22, 0.45];

    var panels = [
      [cartAuc, cartBac, cartGmean, cartFbeta],
      [knnAuc, knnBac, knnGmean, knnFbeta],
      [svmAuc, svmBac, svmGmean, svmFbeta],
      [mlpAuc, mlpBac, mlpGmean, mlpFbeta]
    ];
    var fits = [fitCart, fitKnn, fitSvm, fitMlp];

    var textColor = '#262626';
    var fontName = 'DejaVu Sans';
    var fontSize = 9;

    var main = document.getElementById('main');
    var chart = echarts.init(main);

    var grids = [], xAxes = [], yAxes = [], series = [], graphics = [];

    function minus(v) { return String(v).replace('-', '\u2212'); }

    function bandSeries(idx, f0, slope, half, color) {
      return {
        type: 'custom', xAxisIndex: idx, yAxisIndex: idx, data: [[0]], silent: true, z: 3,
        renderItem: function (params, api) {
          var up = [], lo = [];
          for (var i = 0; i < bandX.length; i++) {
            var yv = f0 + slope * (bandX[i] - fitX[0]);
            up.push(api.coord([bandX[i], yv + half[i]]));
            lo.unshift(api.coord([bandX[i], yv - half[i]]));
          }
          return { type: 'polygon', shape: { points: up.concat(lo) },
                   style: { fill: color, opacity: 0.15 } };
        }
      };
    }

    for (var r = 0; r < 4; r++) {
      for (var c = 0; c < 4; c++) {
        var idx = r * 4 + c;
        var gLeft = 42 + 222 * c;
        var gTop = 22 + 223.2 * r;
        grids.push({ left: gLeft, top: gTop, width: 210, height: 196 });

        xAxes.push({
          type: 'value', gridIndex: idx, min: 3.69, max: 8.13,
          splitLine: { show: false },
          axisLine: { onZero: false, lineStyle: { color: textColor, width: 1 } },
          axisTick: { customValues: xTicks, length: 4, lineStyle: { color: textColor } },
          axisLabel: { show: r === 3, customValues: xTicks, margin: 4, color: textColor,
                       fontFamily: fontName, fontSize: fontSize },
          name: r === 3 ? 'log # samples' : '',
          nameLocation: 'middle', nameGap: 19,
          nameTextStyle: { color: textColor, fontFamily: fontName, fontSize: fontSize }
        });
        yAxes.push({
          type: 'value', gridIndex: idx, min: -9.85, max: 4.8,
          splitLine: { show: false },
          axisLine: { show: true, onZero: false, lineStyle: { color: textColor, width: 1 } },
          axisTick: { show: true, customValues: yTicks, length: 4, lineStyle: { color: textColor } },
          axisLabel: { show: c === 0, customValues: yTicks, margin: 4, color: textColor,
                       fontFamily: fontName, fontSize: fontSize, formatter: minus },
          name: c === 0 ? 'log IR (after resampling)' : '',
          nameLocation: 'middle', nameGap: 24,
          nameTextStyle: { color: textColor, fontFamily: fontName, fontSize: fontSize }
        });

        graphics.push({
          type: 'text', x: gLeft + 105, y: 13.3 + 223.2 * r,
          style: {
            text: 'Classifier = ' + classifiers[r] + ' | Criterion = ' + criteria[c],
            textAlign: 'center', textVerticalAlign: 'middle',
            fill: textColor, font: fontSize + 'px "' + fontName + '"'
          }
        });

        var pts = [];
        panels[r][c].forEach(function (strip) {
          strip[1].forEach(function (y) { pts.push([strip[0], y]); });
        });
        series.push({
          type: 'scatter', xAxisIndex: idx, yAxisIndex: idx, data: pts,
          symbolSize: 9, itemStyle: { color: colors[c], opacity: 0.8 },
          silent: true, z: 2
        });

        var f = fits[r][c];
        var slope = (f[1] - f[0]) / (fitX[1] - fitX[0]);
        series.push(bandSeries(idx, f[0], slope, c === 3 ? bandHalfF : bandHalf, colors[c]));

        series.push({
          type: 'line', xAxisIndex: idx, yAxisIndex: idx,
          data: [[fitX[0], f[0]], [fitX[1], f[1]]],
          showSymbol: false, silent: true, z: 4,
          lineStyle: { color: colors[c], width: 2 }
        });
      }
    }

    chart.setOption({
      animation: false,
      backgroundColor: '#fff',
      grid: grids,
      xAxis: xAxes,
      yAxis: yAxes,
      series: series,
      graphic: graphics
    });
  </script>
</body>
</html>
